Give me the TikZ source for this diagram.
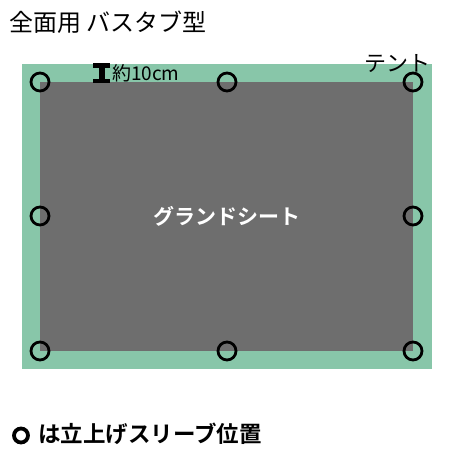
\documentclass[tikz,border=0pt]{standalone}
\usepackage{fontspec}
\newfontfamily\jp{Noto Sans CJK JP}
\newfontfamily\jpb{Noto Sans CJK JP Bold}
\definecolor{tentgreen}{HTML}{88C6A9}
\definecolor{sheetgray}{HTML}{6E6E6E}
\tikzset{
  sleeve/.style={circle, draw=black, line width=2.8pt, minimum size=18pt, inner sep=0pt},
  lbl/.style={inner sep=0pt, anchor=base west, font=\jp},
}
\begin{document}
\begin{tikzpicture}[x=1pt,y=-1pt]
\useasboundingbox (0,0) rectangle (450,450);
\fill[white] (0,0) rectangle (450,450);
\fill[tentgreen] (22,64) rectangle (432,369);
\fill[sheetgray] (40,82) rectangle (413,351);
\node[sleeve] (c1) at (40,82) {};
\node[sleeve] (c2) at (227,82) {};
\node[sleeve] (c3) at (413,82) {};
\node[sleeve] (c4) at (40,216) {};
\node[sleeve] (c5) at (413,216) {};
\node[sleeve] (c6) at (40,351) {};
\node[sleeve] (c7) at (227,351) {};
\node[sleeve] (c8) at (413,351) {};
\node[lbl, font=\jp\fontsize{24}{24}\selectfont] (title) at (9,31) {全面用 バスタブ型};
\node[lbl, font=\jp\fontsize{22}{22}\selectfont] (tent) at (364,71) {テント};
\node[lbl, font=\jp\fontsize{19}{19}\selectfont] (w) at (112,80) {約10cm};
\fill[black] (93,63) rectangle (110,67.5);
\fill[black] (93,78.5) rectangle (110,83);
\fill[black] (98.5,63) rectangle (104.5,83);
\node[font=\jpb\fontsize{21}{21}\selectfont, text=white] (gs) at (227,216) {グランドシート};
\node[circle, draw=black, line width=3.8pt, minimum size=14pt, inner sep=0pt] (key) at (21,435.5) {};
\node[lbl, font=\jpb\fontsize{22.5}{22.5}\selectfont] (legend) at (38,442) {は立上げスリーブ位置};
\end{tikzpicture}
\end{document}
